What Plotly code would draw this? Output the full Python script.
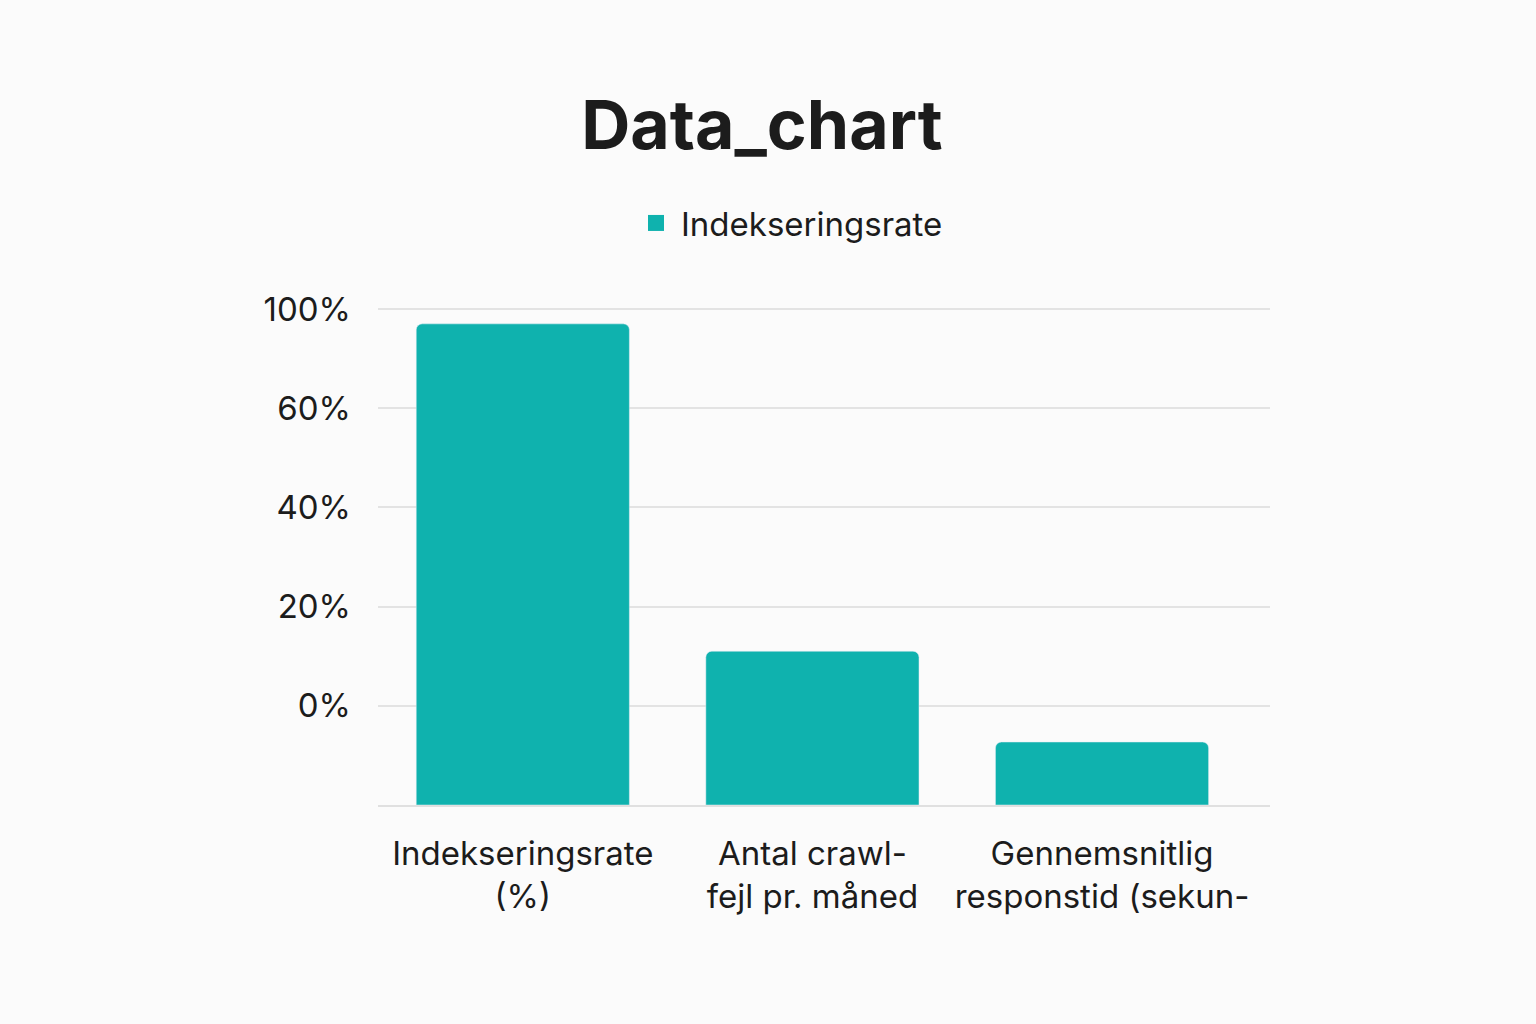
import plotly.graph_objects as go

categories = ["Indekseringsrate<br>(%)", "Antal crawl-<br>fejl pr. måned", "Gennemsnitlig<br>responstid (sekun-"]
values = [97.0, 31.0, 12.7]
series_name = "Indekseringsrate"
tick_vals = [20, 40, 60, 80, 100]
tick_text = ["0%", "20%", "40%", "60%", "100%"]

color = "#0FB2AE"
font = "Inter, Noto Sans, sans-serif"

fig = go.Figure()
fig.add_trace(go.Bar(x=categories, y=values, name=series_name, marker_color=color,
                     width=0.736, showlegend=False))
# legend-only entry with a larger square swatch
fig.add_trace(go.Scatter(x=[None], y=[None], mode="markers", name=series_name,
                         marker=dict(symbol="square", size=32, color=color),
                         showlegend=True))

fig.update_layout(
    width=1536, height=1024,
    paper_bgcolor="#FBFBFB", plot_bgcolor="#FBFBFB",
    margin=dict(l=378, r=266, t=307, b=219),
    barcornerradius=6,
    title=dict(text="<b>Data_chart</b>", x=0.496, xref="container", xanchor="center",
               y=1 - 125 / 1024, yref="container", yanchor="middle",
               font=dict(family=font, size=68, color="#1c1c1c")),
    legend=dict(orientation="h", x=0.514, xref="container", xanchor="center",
                y=1 - 223 / 1024, yref="container", yanchor="middle",
                font=dict(family=font, size=33, color="#1c1c1c"),
                itemsizing="trace", itemwidth=40),
    font=dict(family=font, size=33, color="#1c1c1c"),
)
fig.update_yaxes(range=[0, 100.4], tickvals=tick_vals, ticktext=tick_text,
                 showgrid=True, gridcolor="#E3E3E3", gridwidth=2, zeroline=False,
                 ticks="", ticklabelstandoff=26, tickfont=dict(size=33))
fig.update_xaxes(range=[-0.5, 2.58], showline=True, linecolor="#E0E0E0", linewidth=2,
                 ticks="", tickfont=dict(size=33), ticklabelstandoff=18)

fig.write_html("out.html", config={"displayModeBar": False})

with open("out.html", encoding="utf-8") as f:
    html = f.read()
html = html.replace("<body>", '<body style="margin:0;background:#FBFBFB">', 1)
with open("out.html", "w", encoding="utf-8") as f:
    f.write(html)
